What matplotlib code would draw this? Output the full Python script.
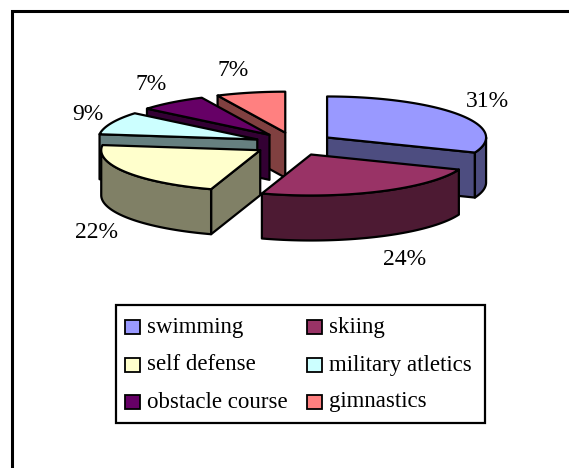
import numpy as np
import matplotlib.pyplot as plt
import matplotlib.colors as mcolors
from matplotlib.patches import Polygon, Rectangle

categories = ['swimming', 'skiing', 'self defense', 'military atletics',
              'obstacle course', 'gimnastics']
shares = [31, 24, 22, 9, 7, 7]
top_colors = ['#9999FF', '#993366', '#FFFFCC', '#CCFFFF', '#660066', '#FF8080']

plt.rcParams['font.family'] = ['Liberation Serif', 'DejaVu Serif']

W, H = 569, 468
fig = plt.figure(figsize=(W / 100, H / 100), dpi=100)
ax = fig.add_axes([0, 0, 1, 1])
ax.set_xlim(0, W)
ax.set_ylim(H, 0)
ax.axis('off')

# outer chart border (only top and left visible)
ax.plot([12, 12, W], [H, 11, 11], color='black', lw=2.2, solid_joinstyle='miter')

# 3d pie geometry, pixel units
cx, cy = 294, 144
ra, rb = 159, 41
depth = 45
ex, ey = 40, 11.6
lw = 1.6


def dark(c):
    return tuple(v * 0.5 for v in mcolors.to_rgb(c))


def rim(vx, vy, t):
    t = np.radians(t)
    return vx + ra * np.cos(t), vy - rb * np.sin(t)


total = sum(shares)
slices = []
start = 90.0
for name, v, col in zip(categories, shares, top_colors):
    span = v / total * 360
    hi = start
    lo = start - span
    start = lo
    mid = np.radians((lo + hi) / 2)
    vx = cx + ex * np.cos(mid)
    vy = cy - ey * np.sin(mid)
    slices.append(dict(name=name, v=v, col=col, lo=lo, hi=hi, mid=mid, vx=vx, vy=vy))

# painter order: back slices first
for s in sorted(slices, key=lambda s: -np.sin(s['mid'])):
    vx, vy, lo, hi = s['vx'], s['vy'], s['lo'], s['hi']
    side = dark(s['col'])
    # cut faces
    for ang, nrm in ((hi, hi + 90), (lo, lo - 90)):
        if np.sin(np.radians(nrm)) < -1e-6:
            rx, ry = rim(vx, vy, ang)
            ax.add_patch(Polygon([(vx, vy), (rx, ry), (rx, ry + depth), (vx, vy + depth)],
                                 closed=True, fc=side, ec='black', lw=lw, joinstyle='round'))
    # outer rim (front part)
    l0 = lo % 360
    h0 = l0 + (hi - lo)
    for a0, a1 in ((180, 360), (540, 720)):
        t1, t2 = max(l0, a0), min(h0, a1)
        if t2 > t1:
            t = np.linspace(t1, t2, 80)
            xs, ys = rim(vx, vy, t)
            pts = list(zip(xs, ys)) + list(zip(xs[::-1], ys[::-1] + depth))
            ax.add_patch(Polygon(pts, closed=True, fc=side, ec='black', lw=lw, joinstyle='round'))
    # top face
    t = np.linspace(lo, hi, 120)
    xs, ys = rim(vx, vy, t)
    pts = [(vx, vy)] + list(zip(xs, ys))
    ax.add_patch(Polygon(pts, closed=True, fc=s['col'], ec='black', lw=lw, joinstyle='round'))

# percentage labels
for s in slices:
    c, sn = np.cos(s['mid']), np.sin(s['mid'])
    lx = cx + 208 * c
    ly = cy - 75 * sn + (depth + 3 if sn < 0 else 0)
    ax.text(lx, ly, f"{s['v'] / total * 100:.0f}%", fontsize=17,
            ha='left' if c > 0 else 'right', va='center')

# legend
lx0, ly0, lx1, ly1 = 116, 305, 485, 423
ax.add_patch(Rectangle((lx0, ly0), lx1 - lx0, ly1 - ly0, fc='white', ec='black', lw=1.6))
col_x = [125, 307]
row_y = [327, 365, 402]
for i, s in enumerate(slices):
    r, cidx = divmod(i, 2)
    x, y = col_x[cidx], row_y[r]
    ax.add_patch(Rectangle((x, y - 7), 15, 14, fc=s['col'], ec='black', lw=1.3))
    ax.text(x + 22, y, s['name'], fontsize=16.5, ha='left', va='center')

fig.savefig('out.png', dpi=100)
